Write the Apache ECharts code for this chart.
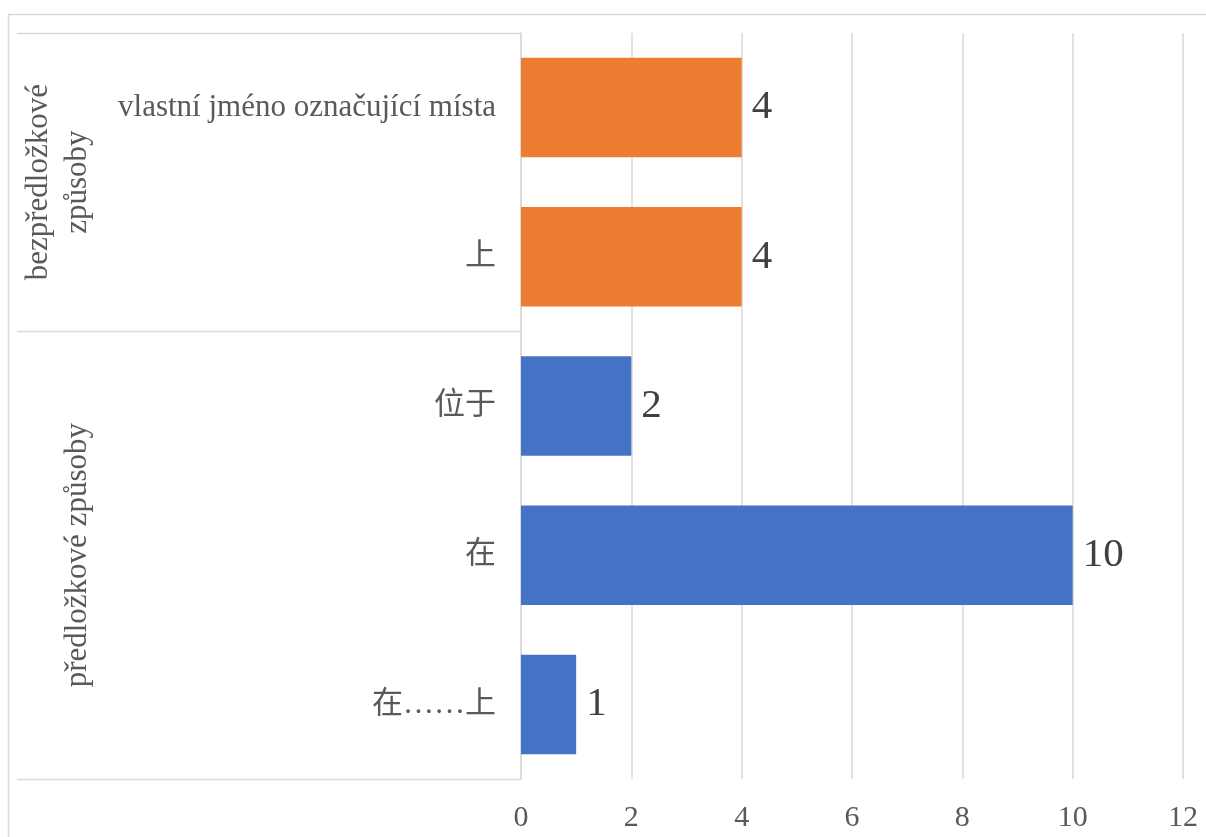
<!DOCTYPE html>
<html>
<head>
<meta charset="utf-8">
<style>
  html, body { margin: 0; padding: 0; background: #ffffff; }
  #chart { width: 1206px; height: 837px; }
</style>
<script src="https://cdn.jsdelivr.net/npm/echarts@6/dist/echarts.min.js"></script>
</head>
<body>
<div id="chart"></div>
<script>
// Categories listed top to bottom, with their counts
const categories = ['vlastní jméno označující místa', '上', '位于', '在', '在……上'];
const values = [4, 4, 2, 10, 1];

// Outer grouping of the categories (consecutive runs, top to bottom)
const groupNames = ['bezpředložkové\nzpůsoby', 'předložkové způsoby'];
const groupSizes = [2, 3];
const groupColors = ['#ED7D31', '#4472C4'];

// Value axis ticks
const xTicks = [0, 2, 4, 6, 8, 10, 12];

const FONT = '"Liberation Serif", "Times New Roman", "Noto Sans CJK SC", serif';
const TEXT = '#595959';
const LINE = '#D9D9D9';

// Which group each category belongs to
const groupOf = [];
groupSizes.forEach((n, g) => { for (let i = 0; i < n; i++) groupOf.push(g); });

const chart = echarts.init(document.getElementById('chart'), null, { renderer: 'canvas' });

chart.setOption({
  backgroundColor: '#ffffff',
  animation: false,
  grid: { left: 521, right: 23, top: 33, bottom: 58, containLabel: false },
  xAxis: {
    type: 'value',
    min: xTicks[0],
    max: xTicks[xTicks.length - 1],
    interval: xTicks[1] - xTicks[0],
    axisLine: { show: false },
    axisTick: { show: false },
    axisLabel: { color: TEXT, fontSize: 30, fontFamily: FONT, margin: 24 },
    splitLine: { show: true, lineStyle: { color: LINE, width: 1.5 } }
  },
  yAxis: {
    type: 'category',
    inverse: true,
    data: categories,
    axisLine: { show: true, lineStyle: { color: LINE, width: 1.5 } },
    axisTick: { show: false },
    axisLabel: { color: TEXT, fontSize: 31, fontFamily: FONT, margin: 25 }
  },
  series: [{
    type: 'bar',
    barCategoryGap: '33.3%',
    data: values.map((v, i) => ({ value: v, itemStyle: { color: groupColors[groupOf[i]] } })),
    label: {
      show: true,
      position: 'right',
      distance: 10,
      color: '#404040',
      fontSize: 41,
      fontFamily: FONT
    }
  }]
});

// Multi-level category frame: boundaries and group titles, placed from the axis scale
function drawGroupFrame() {
  const c0 = chart.convertToPixel({ yAxisIndex: 0 }, 0);
  const c1 = chart.convertToPixel({ yAxisIndex: 0 }, 1);
  const band = c1 - c0;
  const axisX = chart.convertToPixel({ xAxisIndex: 0 }, xTicks[0]);
  const edge = (k) => c0 - band / 2 + k * band;

  const elements = [];
  // outer chart border
  elements.push({
    type: 'rect', silent: true,
    shape: { x: 8.5, y: 14.5, width: 1250, height: 900 },
    style: { fill: null, stroke: LINE, lineWidth: 1.5 }
  });

  let start = 0;
  const boundaries = [0];
  groupSizes.forEach((n) => { start += n; boundaries.push(start); });
  boundaries.forEach((k) => {
    const y = Math.round(edge(k)) + 0.5;
    elements.push({
      type: 'line', silent: true,
      shape: { x1: 17, y1: y, x2: axisX, y2: y },
      style: { stroke: LINE, lineWidth: 1.5 }
    });
  });

  groupNames.forEach((name, g) => {
    const yMid = (edge(boundaries[g]) + edge(boundaries[g + 1])) / 2;
    const lines = name.split('\n').length;
    elements.push({
      type: 'text', silent: true,
      x: lines > 1 ? 58 : 78,
      y: yMid,
      rotation: Math.PI / 2,
      style: {
        text: name,
        fill: TEXT,
        fontSize: 31,
        fontFamily: FONT,
        lineHeight: 39,
        align: 'center',
        verticalAlign: 'middle'
      }
    });
  });

  chart.setOption({ graphic: { elements } });
}
drawGroupFrame();
</script>
</body>
</html>
